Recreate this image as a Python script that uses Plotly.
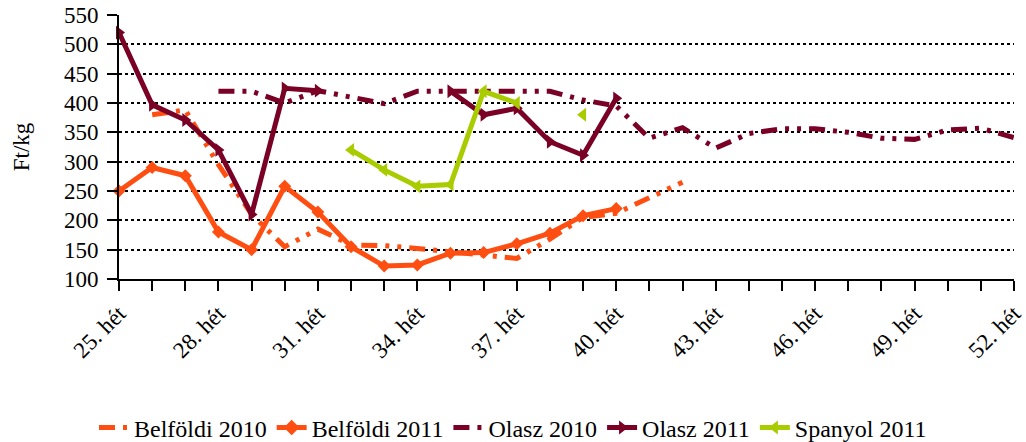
import plotly.graph_objects as go

weeks = ["25. hét", "26. hét", "27. hét", "28. hét", "29. hét", "30. hét", "31. hét",
         "32. hét", "33. hét", "34. hét", "35. hét", "36. hét", "37. hét", "38. hét",
         "39. hét", "40. hét", "41. hét", "42. hét", "43. hét", "44. hét", "45. hét",
         "46. hét", "47. hét", "48. hét", "49. hét", "50. hét", "51. hét", "52. hét"]
tick_labels = ["25. hét", "28. hét", "31. hét", "34. hét", "37. hét",
               "40. hét", "43. hét", "46. hét", "49. hét", "52. hét"]

N = None
belfoldi_2010 = [N, 380, 388, 295, 210, 155, 185, 158, 157, 152, 147, 142, 135, 168,
                 205, 212, 238, 265, N, N, N, N, N, N, N, N, N, N]
belfoldi_2011 = [250, 290, 276, 180, 150, 258, 214, 155, 122, 124, 144, 145, 160, 178,
                 208, 220, N, N, N, N, N, N, N, N, N, N, N, N]
olasz_2010 = [N, N, N, 420, 420, 400, 421, 410, 399, 420, 420, 420, 420, 420,
              405, 395, 340, 358, 323, 348, 356, 356, 350, 340, 338, 354, 357, 341]
olasz_2011 = [520, 397, 371, 320, 210, 425, 421, N, N, N, 420, 380, 391, 334,
              311, 408, N, N, N, N, N, N, N, N, N, N, N, N]
spanyol_2011 = [N, N, N, N, N, N, N, 320, 286, 258, 261, 420, 400, N,
                380, N, N, N, N, N, N, N, N, N, N, N, N, N]

ORANGE = "#FF4E12"
DARKRED = "#7A0026"
GREEN = "#A9CC00"
DASHDOT = "16px,8px,4px,8px,4px,8px"

fig = go.Figure()
fig.add_trace(go.Scatter(x=weeks, y=belfoldi_2010, name="Belföldi 2010", mode="lines",
                         line=dict(color=ORANGE, width=5, dash=DASHDOT),
                         connectgaps=False, cliponaxis=False))
fig.add_trace(go.Scatter(x=weeks, y=belfoldi_2011, name="Belföldi 2011", mode="lines+markers",
                         line=dict(color=ORANGE, width=5),
                         marker=dict(symbol="diamond", size=10, color=ORANGE),
                         cliponaxis=False))
fig.add_trace(go.Scatter(x=weeks, y=olasz_2010, name="Olasz 2010", mode="lines",
                         line=dict(color=DARKRED, width=5, dash=DASHDOT),
                         cliponaxis=False))
fig.add_trace(go.Scatter(x=weeks, y=olasz_2011, name="Olasz 2011", mode="lines+markers",
                         line=dict(color=DARKRED, width=5),
                         marker=dict(symbol="triangle-right", size=12, color=DARKRED),
                         cliponaxis=False))
fig.add_trace(go.Scatter(x=weeks, y=spanyol_2011, name="Spanyol 2011", mode="lines+markers",
                         line=dict(color=GREEN, width=5),
                         marker=dict(symbol="triangle-left", size=12, color=GREEN),
                         cliponaxis=False))

FONT = "Liberation Serif"
fig.update_layout(
    width=1026, height=442,
    margin=dict(l=119, r=12, t=15, b=163, autoexpand=False),
    paper_bgcolor="white", plot_bgcolor="white",
    font=dict(family=FONT, size=23, color="black"),
    showlegend=True,
    legend=dict(orientation="h", xref="container", x=0.5, xanchor="center",
                yref="container", y=0.032, yanchor="middle",
                font=dict(family=FONT, size=24), itemwidth=30,
                tracegroupgap=0, itemsizing="constant"),
    xaxis=dict(type="category", categoryorder="array", categoryarray=weeks,
               range=[0, len(weeks) - 1], automargin=False,
               tickmode="array", tickvals=weeks,
               ticktext=[w if w in tick_labels else "" for w in weeks],
               tickangle=-45, ticks="outside", ticklen=10, tickwidth=2, tickcolor="black",
               showline=True, linecolor="black", linewidth=2,
               showgrid=False, zeroline=False,
               tickfont=dict(family=FONT, size=23)),
    yaxis=dict(range=[100, 550], dtick=50, tick0=100, automargin=False,
               ticks="outside", ticklen=10, tickwidth=2, tickcolor="black",
               showline=True, linecolor="black", linewidth=2,
               showgrid=True, gridcolor="black", gridwidth=2, griddash="dot",
               zeroline=False, ticklabelstandoff=4,
               title=dict(text="Ft/kg", font=dict(family=FONT, size=23), standoff=28),
               tickfont=dict(family=FONT, size=23)),
)

fig.write_html("out.html", config={"displayModeBar": False},
               post_script="document.body.style.margin='0px';")
